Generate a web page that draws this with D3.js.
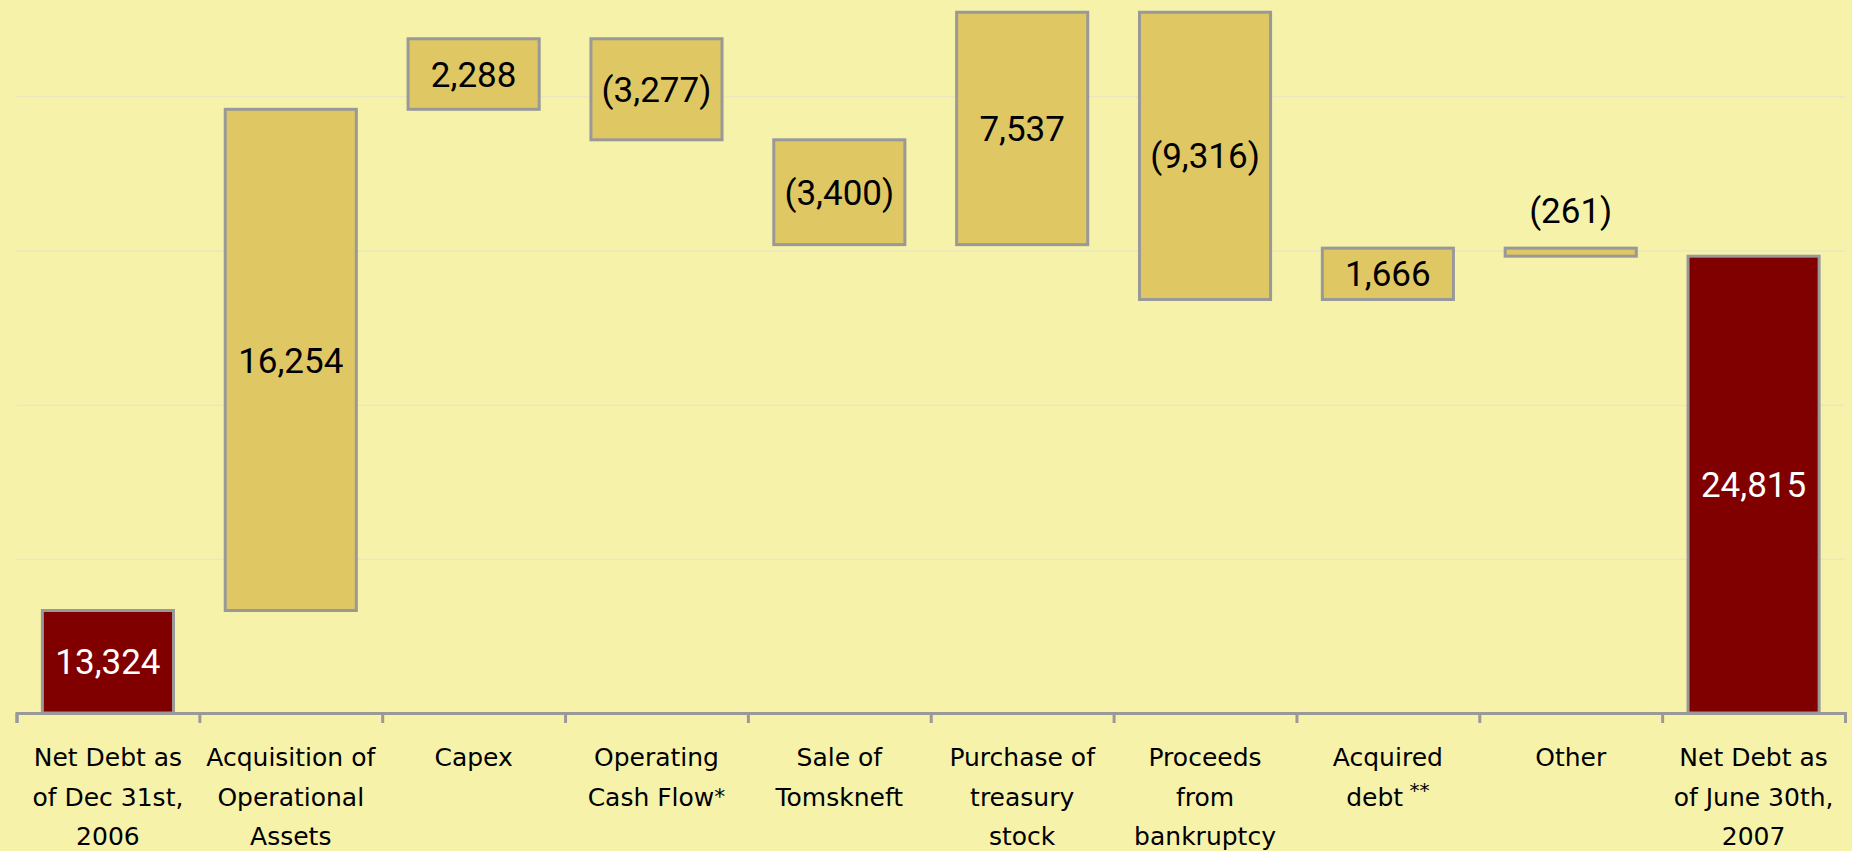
<!DOCTYPE html>
<html>
<head>
<meta charset="utf-8">
<script src="https://cdn.jsdelivr.net/npm/d3@7"></script>
<style>
  html, body { margin: 0; padding: 0; background: #F7F2AA; }
  svg { display: block; }
</style>
</head>
<body>
<svg id="chart" width="1852" height="851"></svg>
<script>
// ---- data ----
const categories = [
  "Net Debt as of Dec 31st, 2006",
  "Acquisition of Operational Assets",
  "Capex",
  "Operating Cash Flow*",
  "Sale of Tomskneft",
  "Purchase of treasury stock",
  "Proceeds from bankruptcy",
  "Acquired debt **",
  "Other",
  "Net Debt as of June 30th, 2007"
];
const categoryLines = [
  ["Net Debt as", "of Dec 31st,", "2006"],
  ["Acquisition of", "Operational", "Assets"],
  ["Capex"],
  ["Operating", "Cash Flow*"],
  ["Sale of", "Tomskneft"],
  ["Purchase of", "treasury", "stock"],
  ["Proceeds", "from", "bankruptcy"],
  ["Acquired", "debt **"],
  ["Other"],
  ["Net Debt as", "of June 30th,", "2007"]
];
const values = [13324, 16254, 2288, -3277, -3400, 7537, -9316, 1666, -261, 24815];
const isTotal = [true, false, false, false, false, false, false, false, false, true];
const gridValues = [15000, 20000, 25000, 30000];
const axisMin = 10000;

// ---- build waterfall segments ----
let running = 0;
const bars = values.map((v, i) => {
  let lo, hi;
  if (isTotal[i]) { lo = axisMin; hi = v; running = v; }
  else { const s = running; running = s + v; lo = Math.min(s, running); hi = Math.max(s, running); }
  return { i, v, lo, hi, total: isTotal[i] };
});

// ---- layout ----
const svg = d3.select("#chart");
const left = 16.5, right = 1845;
const y = d3.scaleLinear().domain([axisMin, 30000]).range([713, 96.3]);
const x = d3.scaleBand().domain(d3.range(categories.length)).range([left, right])
  .paddingInner(0.283).paddingOuter(0.1415);
const xb = d3.scaleLinear().domain([0, categories.length]).range([left, right]);

// gridlines
const grid = svg.append("g").attr("transform", `translate(${left},0)`)
  .call(d3.axisLeft(y).tickValues(gridValues).tickSize(-(right - left)).tickFormat(""));
grid.select(".domain").remove();
grid.selectAll(".tick line").attr("stroke", "#EBE7BC").attr("stroke-width", 1.5);

// bars
svg.append("g").selectAll("rect").data(bars).join("rect")
  .attr("x", d => x(d.i))
  .attr("width", x.bandwidth())
  .attr("y", d => y(d.hi))
  .attr("height", d => y(d.lo) - y(d.hi))
  .attr("fill", d => d.total ? "#800000" : "#DFC763")
  .attr("stroke", "#999999")
  .attr("stroke-width", 3);

// x axis
const xAxis = svg.append("g").attr("transform", "translate(0,713)")
  .call(d3.axisBottom(xb).tickValues(d3.range(categories.length + 1)).tickFormat("").tickSizeOuter(0).tickSize(10));
xAxis.select(".domain").attr("stroke", "#999999").attr("stroke-width", 3);
xAxis.selectAll(".tick line").attr("stroke", "#999999").attr("stroke-width", 3);

// value labels
const fmt = v => v < 0 ? `(${d3.format(",")(-v)})` : d3.format(",")(v);
svg.append("g").selectAll("text").data(bars).join("text")
  .attr("x", d => x(d.i) + x.bandwidth() / 2)
  .attr("y", d => {
    const h = y(d.lo) - y(d.hi);
    return h < 40 ? y(d.hi) - 38 : (y(d.lo) + y(d.hi)) / 2;
  })
  .attr("dy", "0.36em")
  .attr("text-anchor", "middle")
  .attr("font-family", "Roboto, 'Noto Sans', sans-serif")
  .attr("font-size", 35)
  .attr("fill", d => d.total ? "#FFFFFF" : "#000000")
  .text(d => fmt(d.v));

// category labels
const cat = svg.append("g").selectAll("text").data(categoryLines).join("text")
  .attr("text-anchor", "middle")
  .attr("font-family", "'DejaVu Sans', sans-serif")
  .attr("font-size", 25)
  .attr("fill", "#000");
cat.each(function(lines, i) {
  const t = d3.select(this);
  const cx = x(i) + x.bandwidth() / 2;
  lines.forEach((ln, j) => {
    const m = ln.match(/^(.*?)(\s?\*+)$/);
    const ts = t.append("tspan").attr("x", cx).attr("y", 757 + j * 39.5).attr("dy", "0.36em");
    if (m) {
      ts.text(m[1]);
      const sup = m[2].startsWith(" ");
      t.append("tspan").attr("dy", sup ? "-0.45em" : "-0.05em")
        .attr("font-size", sup ? 20 : 22).text(sup ? "\u00A0" + m[2].trim() : m[2]);
    } else {
      ts.text(ln);
    }
  });
});
</script>
</body>
</html>
